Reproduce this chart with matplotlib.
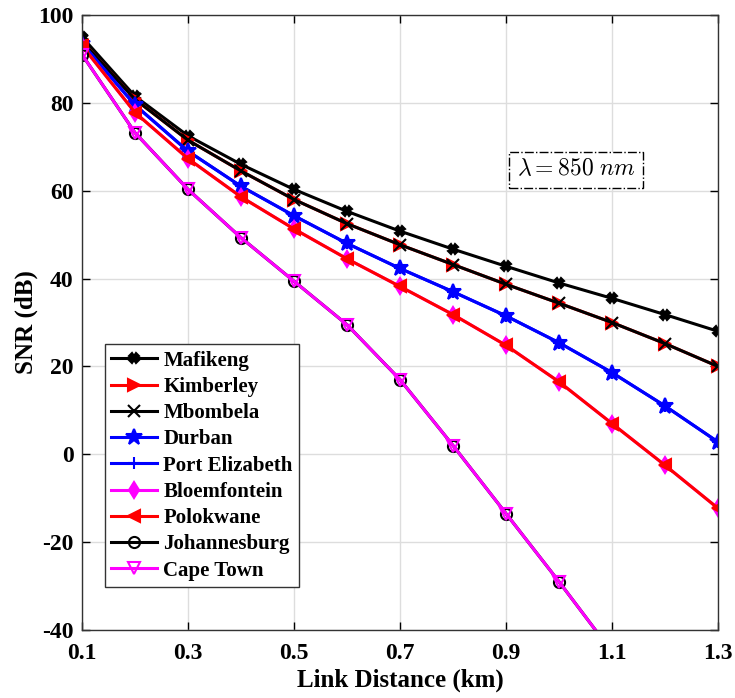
import numpy as np
import matplotlib
matplotlib.use("Agg")
import matplotlib.pyplot as plt

plt.rcParams['font.family'] = ['Liberation Serif', 'DejaVu Serif']
plt.rcParams['font.weight'] = 'bold'
plt.rcParams['mathtext.fontset'] = 'cm'
plt.rcParams['axes.unicode_minus'] = False

distance = [0.1, 0.2, 0.3, 0.4, 0.5, 0.6, 0.7, 0.8, 0.9, 1.0, 1.1, 1.2, 1.3]

mafikeng = [95.0, 81.5, 72.5, 66.0, 60.3, 55.3, 50.8, 46.7, 42.8, 39.0, 35.5, 31.8, 28.0]
kimberley = [94.0, 80.8, 71.5, 64.5, 58.0, 52.5, 47.7, 43.2, 38.7, 34.4, 30.0, 25.2, 20.0]
mbombela = [94.0, 80.8, 71.5, 64.5, 58.0, 52.5, 47.7, 43.2, 38.7, 34.4, 30.0, 25.2, 20.0]
durban = [93.5, 79.5, 69.0, 61.0, 54.3, 48.0, 42.3, 37.0, 31.5, 25.4, 18.6, 11.0, 2.8]
port_elizabeth = [93.5, 79.5, 69.0, 61.0, 54.3, 48.0, 42.3, 37.0, 31.5, 25.4, 18.6, 11.0, 2.8]
bloemfontein = [93.0, 77.8, 67.3, 58.6, 51.3, 44.5, 38.2, 31.8, 24.8, 16.5, 7.0, -2.5, -12.3]
polokwane = [93.0, 77.8, 67.3, 58.6, 51.3, 44.5, 38.2, 31.8, 24.8, 16.5, 7.0, -2.5, -12.3]
johannesburg = [91.0, 73.2, 60.3, 49.3, 39.4, 29.5, 17.0, 2.0, -13.5, -29.0, -45.0, -62.0, -80.0]
cape_town = [91.0, 73.2, 60.3, 49.3, 39.4, 29.5, 17.0, 2.0, -13.5, -29.0, -45.0, -62.0, -80.0]

MAG = '#FF00FF'
series = [
    ("Mafikeng", mafikeng, 'k', 'X', 'k', 7),
    ("Kimberley", kimberley, 'r', '>', 'r', 8),
    ("Mbombela", mbombela, 'k', 'x', 'k', 8),
    ("Durban", durban, 'b', '*', 'b', 12),
    ("Port Elizabeth", port_elizabeth, 'b', '+', 'b', 9),
    ("Bloemfontein", bloemfontein, MAG, 'd', MAG, 8),
    ("Polokwane", polokwane, 'r', '<', 'r', 8),
    ("Johannesburg", johannesburg, 'k', 'o', 'none', 8),
    ("Cape Town", cape_town, MAG, 'v', 'none', 9),
]

fig = plt.figure(figsize=(7.35, 6.98), dpi=100)
ax = fig.add_axes([0.1116, 0.0974, 0.8653, 0.8811])

for name, vals, col, mk, face, size in series:
    ax.plot(distance, vals, color=col, marker=mk, markersize=size,
            markerfacecolor=face, markeredgecolor=col, markeredgewidth=1.5,
            linewidth=2.2, label=name)

ax.set_xlim(0.1, 1.3)
ax.set_ylim(-40, 100)
ax.set_xticks([0.1, 0.3, 0.5, 0.7, 0.9, 1.1, 1.3])
ax.set_yticks(np.arange(-40, 101, 20))
ax.tick_params(direction='in', top=True, right=True, labelsize=17, length=6, width=1)
ax.tick_params(axis='x', pad=9)
ax.tick_params(axis='y', pad=6)
ax.grid(True, color='#dddddd', linewidth=1)
ax.set_axisbelow(True)
for sp in ax.spines.values():
    sp.set_color('#333333')
    sp.set_linewidth(1)

ax.set_xlabel("Link Distance (km)", fontsize=18, fontweight='bold', labelpad=4)
ax.set_ylabel("SNR (dB)", fontsize=18, fontweight='bold', labelpad=0)

leg = ax.legend(loc='lower left', bbox_to_anchor=(0.036, 0.07), borderaxespad=0,
                fancybox=False, edgecolor='#333333', framealpha=1,
                handlelength=2.2, handletextpad=0.3, labelspacing=0.3, borderpad=0.3,
                prop={'weight': 'bold', 'size': 15})
leg.get_frame().set_linewidth(1)

ax.text(1.032, 64.8, r'$\lambda = 850\ nm$', fontsize=17, ha='center', va='center',
        bbox=dict(boxstyle='square,pad=0.3', facecolor='white', edgecolor='k',
                  linestyle='-.', linewidth=1))

fig.savefig("out.png", dpi=100)
